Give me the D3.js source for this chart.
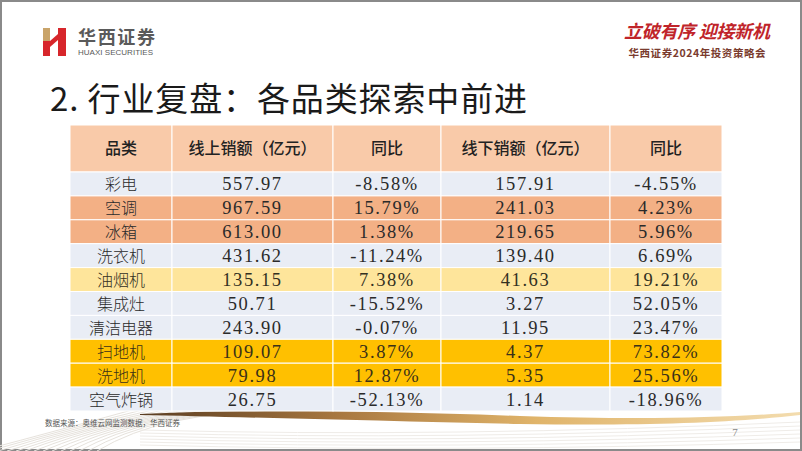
<!DOCTYPE html>
<html><head><meta charset="utf-8">
<script src="https://cdn.jsdelivr.net/npm/d3@7/dist/d3.min.js"></script>
<style>
html,body{margin:0;padding:0;background:#fff;}
svg{display:block;}
</style></head>
<body>
<svg id="c" width="802" height="451"></svg>
<script>
// ---- data ----
const headers = ["品类", "线上销额（亿元）", "同比", "线下销额（亿元）", "同比"];
const categories = ["彩电","空调","冰箱","洗衣机","油烟机","集成灶","清洁电器","扫地机","洗地机","空气炸锅"];
const onlineSales = ["557.97","967.59","613.00","431.62","135.15","50.71","243.90","109.07","79.98","26.75"];
const onlineYoY = ["-8.58%","15.79%","1.38%","-11.24%","7.38%","-15.52%","-0.07%","3.87%","12.87%","-52.13%"];
const offlineSales = ["157.91","241.03","219.65","139.40","41.63","3.27","11.95","4.37","5.35","1.14"];
const offlineYoY = ["-4.55%","4.23%","5.96%","6.69%","19.21%","52.05%","23.47%","73.82%","25.56%","-18.96%"];
const rowGroup = ["base","hot","hot","base","warm","base","base","gold","gold","base"];

const title = "2. 行业复盘：各品类探索中前进";
const source = "数据来源：奥维云网监测数据，华西证券";

// ---- style / layout ----
const fills = {header:"#F9CAA9", base:"#E9EDF5", hot:"#F3B085", warm:"#FEE59B", gold:"#FFC000"};
const textCol = {base:"#2a2a2a", hot:"#2a2a2a", warm:"#33301f", gold:"#3a3118"};
const colWeights = [102, 161, 108, 169, 112];

const svg = d3.select("#c");

// frame
svg.append("rect").attr("x",1).attr("y",1).attr("width",800).attr("height",449)
  .attr("fill","#fff").attr("stroke","#8a8a8a").attr("stroke-width",2);

// footer decoration
const deco = svg.append("g");
for (let i=0;i<14;i++){
  deco.append("path")
    .attr("d",`M${-20+i*9},451 Q${60+i*8},${430-i*1.5} ${150+i*10},${405+i*0.5}`)
    .attr("fill","none").attr("stroke","#e6e2dc").attr("stroke-width",1);
}
for (let i=0;i<6;i++){
  deco.append("path")
    .attr("d",`M140,${430+i*3} Q450,${438+i*3} 800,${422+i*4}`)
    .attr("fill","none").attr("stroke","#efece8").attr("stroke-width",1);
}
const grad = svg.append("defs").append("linearGradient").attr("id","sw").attr("x1","0").attr("x2","1");
grad.append("stop").attr("offset","0").attr("stop-color","#5a3d22");
grad.append("stop").attr("offset","0.3").attr("stop-color","#a8773f");
grad.append("stop").attr("offset","0.6").attr("stop-color","#e0b46a");
grad.append("stop").attr("offset","1").attr("stop-color","#f3dcae");
deco.append("path")
  .attr("d","M140,414 C240,409 380,411 520,416 C640,420 730,418 800,412 L800,415 C730,423 640,426 520,424 C380,421 240,417 140,415 Z")
  .attr("fill","url(#sw)");

// logo
const logo = svg.append("g");
logo.append("rect").attr("x",43).attr("y",28).attr("width",7).attr("height",13).attr("fill","#C9A46A");
logo.append("rect").attr("x",43).attr("y",41).attr("width",7).attr("height",15).attr("fill","#D7262B");
logo.append("rect").attr("x",58).attr("y",28).attr("width",8).attr("height",28).attr("fill","#D7262B");
logo.append("path").attr("d","M50,41 L58,34 L58,40 L50,47 Z").attr("fill","#D7262B");
logo.append("text").attr("x",78).attr("y",44).text("华西证券")
  .attr("font-family","'Noto Sans CJK SC'").attr("font-weight","bold").attr("font-size",18)
  .attr("fill","#5a5a5a").attr("textLength",77);
logo.append("text").attr("x",78).attr("y",55).text("HUAXI SECURITIES")
  .attr("font-family","'Liberation Sans', Arial").attr("font-size",8)
  .attr("fill","#5a5a5a").attr("textLength",75);

// top-right slogan
svg.append("text").attr("x",697).attr("y",38).attr("text-anchor","middle").text("立破有序 迎接新机")
  .attr("font-family","'Noto Sans CJK SC'").attr("font-weight","bold").attr("font-size",18)
  .attr("fill","#C0242A").attr("font-style","italic").attr("textLength",146);
svg.append("text").attr("x",697).attr("y",57).attr("text-anchor","middle").text("华西证券2024年投资策略会")
  .attr("font-family","'Noto Sans CJK SC'").attr("font-weight","bold").attr("font-size",10.5)
  .attr("fill","#7a3b2e").attr("textLength",137);

// title
svg.append("text").attr("x",50).attr("y",111).text(title)
  .attr("font-family","'Noto Sans CJK SC'").attr("font-size",33).attr("fill","#1a1a1a")
  .attr("textLength",477);

// table
const tableLeft = 70, tableRight = 722, headTop = 125, headBottom = 172, tableBottom = 411;
const cum = [0]; colWeights.forEach(w => cum.push(cum[cum.length-1]+w));
const xScale = d3.scaleLinear().domain([0, cum[cum.length-1]]).range([tableLeft, tableRight]);
const colX = i => xScale(cum[i]);
const colW = i => xScale(cum[i+1]) - xScale(cum[i]);
const y = d3.scaleBand().domain(categories).range([headBottom, tableBottom]);

const tbl = svg.append("g");
// header
headers.forEach((h,i)=>{
  tbl.append("rect").attr("x",colX(i)).attr("y",headTop).attr("width",colW(i)).attr("height",headBottom-headTop)
    .attr("fill",fills.header).attr("stroke","#fff").attr("stroke-width",1);
  tbl.append("text").attr("x",colX(i)+colW(i)/2).attr("y",(headTop+headBottom)/2+5.5)
    .attr("text-anchor","middle").text(h)
    .attr("font-family","'Noto Sans CJK SC'").attr("font-weight",500).attr("font-size",16).attr("fill","#222");
});

const rows = categories.map((c,i)=>({cat:c, g:rowGroup[i], vals:[c, onlineSales[i], onlineYoY[i], offlineSales[i], offlineYoY[i]]}));
const rg = tbl.selectAll("g.row").data(rows).join("g").attr("class","row")
  .attr("transform", d=>`translate(0,${y(d.cat)})`);
rg.each(function(d){
  const g = d3.select(this);
  d.vals.forEach((v,i)=>{
    g.append("rect").attr("x",colX(i)).attr("y",0).attr("width",colW(i)).attr("height",y.bandwidth())
      .attr("fill",fills[d.g]).attr("stroke","#fff").attr("stroke-width",1);
    const t = g.append("text").attr("x",colX(i)+colW(i)/2).attr("y",y.bandwidth()/2+6.5)
      .attr("text-anchor","middle").text(v).attr("fill",textCol[d.g]);
    if (i===0) {
      t.attr("font-family","'Noto Sans CJK SC'").attr("font-size",16).attr("font-weight",300);
    } else {
      t.attr("font-family","'Liberation Serif','DejaVu Serif',serif").attr("font-size",18.5).attr("letter-spacing",1.6);
    }
  });
});

// footer
svg.append("text").attr("x",45).attr("y",426).text(source)
  .attr("font-family","'Noto Sans CJK SC'").attr("font-size",7.5).attr("fill","#555");
svg.append("text").attr("x",735).attr("y",436).attr("text-anchor","middle").text("7")
  .attr("font-family","'Liberation Serif',serif").attr("font-size",11).attr("fill","#888");
</script>
</body></html>
